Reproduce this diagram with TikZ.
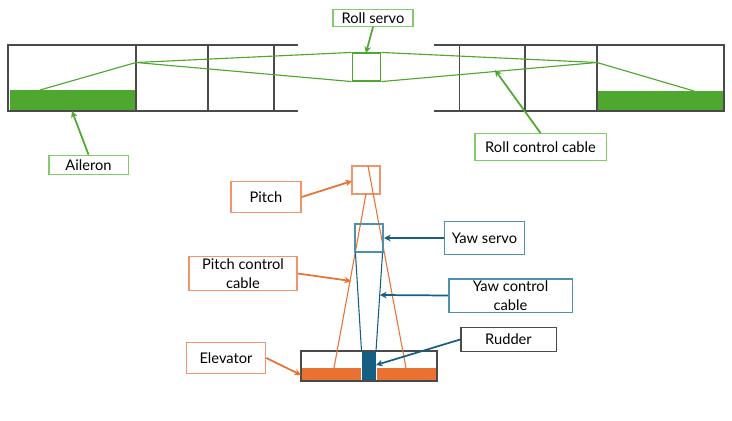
\documentclass[tikz,border=0pt]{standalone}
\usepackage{fontspec}
\setmainfont{Lato}
\usepackage{xcolor}
\usepackage{tikz}
\usetikzlibrary{calc,arrows.meta}
\definecolor{rollgreen}{HTML}{4EA72E}
\definecolor{labelgreen}{HTML}{83CA6B}
\definecolor{pitchorange}{HTML}{E97132}
\definecolor{labelorange}{HTML}{F1946A}
\definecolor{yawblue}{HTML}{156082}
\definecolor{labelblue}{HTML}{4F90AD}
\definecolor{framegrey}{HTML}{4A4A4A}
\tikzset{
  frameline/.style={draw=framegrey, line width=1pt},
  rollcable/.style={draw=rollgreen, line width=0.85pt},
  pitchcable/.style={draw=pitchorange, line width=0.8pt},
  yawcable/.style={draw=yawblue, line width=0.8pt},
  tag/.style={draw=#1, line width=1pt, fill=white, text=black, inner sep=0pt, font=\fontsize{11}{14.2}\selectfont, align=center},
  callout/.style={draw=#1, line width=1.3pt, -{Stealth[length=5pt,width=5pt]}},
}
\begin{document}
\begin{tikzpicture}[x=0.75pt,y=-0.75pt]
\useasboundingbox (0,0) rectangle (732,421);
% left wing
\coordinate (lwa) at (8,45);
\coordinate (lwb) at (298,45);
\coordinate (lwc) at (8,111);
\coordinate (lwd) at (298,111);
\coordinate (lhinge) at (136,62.5);
\fill[rollgreen] (9.5,90) rectangle (134.5,110);
\draw[frameline] (lwb) -- (lwa) -- (lwc) -- (lwd);
\draw[frameline] (136,45) -- (136,111);
\draw[frameline] (208,45) -- (208,111);
\draw[frameline] (274,45) -- (274,111);
% right wing
\coordinate (rwa) at (724,45);
\coordinate (rwb) at (434,45);
\coordinate (rwc) at (724,111);
\coordinate (rwd) at (434,111);
\coordinate (rhinge) at (597,62.5);
\fill[rollgreen] (597.5,91) rectangle (723,110);
\draw[frameline] (rwb) -- (rwa) -- (rwc) -- (rwd);
\draw[frameline] (459.3,45) -- (459.3,111);
\draw[frameline] (525,45) -- (525,111);
\draw[frameline] (597,45) -- (597,111);
% roll servo and cables
\node[draw=rollgreen, line width=0.85pt, minimum width=21.5pt, minimum height=21pt, inner sep=0pt] (rollbox) at (366.5,67) {};
\draw[rollcable] (40,90) -- (lhinge) -- (rollbox.north west);
\draw[rollcable] (lhinge) -- (rollbox.south west);
\draw[rollcable] (rollbox.north east) -- (rhinge) -- (694,91);
\draw[rollcable] (rollbox.south east) -- (rhinge);
% tail
\coordinate (elevl) at (301,351);
\coordinate (elevr) at (437,381);
\fill[pitchorange] (302,368) rectangle (436,380.5);
\fill[white] (361,351) rectangle (376.5,381);
\fill[yawblue] (361.5,351) rectangle (376,381);
\draw[frameline] (elevl) rectangle (elevr);
% pitch
\node[draw=labelorange, line width=0.85pt, minimum width=21pt, minimum height=21pt, inner sep=0pt] (pitchbox) at (366,180) {};
\draw[pitchcable] (366,194) -- (334,368);
\draw[pitchcable] (368,166) -- (406,368);
% yaw
\node[draw=labelblue, line width=0.85pt, minimum width=21pt, minimum height=21pt, inner sep=0pt] (yawbox) at (369,238) {};
\draw[yawcable] ($(yawbox.south west)+(1,0)$) -- (361.5,351);
\draw[yawcable] ($(yawbox.south east)+(-1,0)$) -- (376,351);
% labels
\node[tag=labelgreen, minimum width=60pt, minimum height=12.5pt] (rollservo) at (373,18) {Roll servo};
\node[tag=labelgreen, minimum width=59.5pt, minimum height=14.5pt] (aileron) at (88.5,165) {Aileron};
\node[tag=labelgreen, minimum width=98.5pt, minimum height=20pt] (rollcab) at (540.5,147) {Roll control cable};
\node[tag=labelorange, minimum width=52.5pt, minimum height=23.5pt] (pitch) at (266,197) {Pitch};
\node[tag=labelorange, minimum width=81pt, minimum height=25.5pt] (pitchcab) at (243,273.5) {Pitch control\\cable};
\node[tag=labelorange, minimum width=59.5pt, minimum height=23pt] (elevator) at (226,358) {Elevator};
\node[tag=labelblue, minimum width=60pt, minimum height=25pt] (yawservo) at (484.5,238) {Yaw servo};
\node[tag=labelblue, minimum width=92.5pt, minimum height=25pt] (yawcab) at (510.5,295.5) {Yaw control\\cable};
\node[tag=framegrey, minimum width=71.5pt, minimum height=18pt] (rudder) at (508.5,339.5) {Rudder};
% pointers
\coordinate (ailtip) at (72,111);
\coordinate (rollcabtip) at (495,70);
\coordinate (pitchtip) at (352,181);
\coordinate (pitchcabtip) at (351,281);
\coordinate (elevtip) at (301,375);
\coordinate (yawtip) at (384,238);
\coordinate (yawcabtip) at (380,295);
\coordinate (ruddertip) at (376,365);
\coordinate (servotip) at (366,53);
\draw[callout=rollgreen] (rollservo.south) -- (servotip);
\draw[callout=rollgreen] (aileron.north) -- (ailtip);
\draw[callout=rollgreen] (rollcab.north) -- (rollcabtip);
\draw[callout=pitchorange] (pitch.east) -- (pitchtip);
\draw[callout=pitchorange] (pitchcab.east) -- (pitchcabtip);
\draw[callout=pitchorange] (elevator.east) -- (elevtip);
\draw[callout=yawblue] (yawservo.west) -- (yawtip);
\draw[callout=yawblue] (yawcab.west) -- (yawcabtip);
\draw[callout=yawblue] (rudder.west) -- (ruddertip);
\end{tikzpicture}
\end{document}
